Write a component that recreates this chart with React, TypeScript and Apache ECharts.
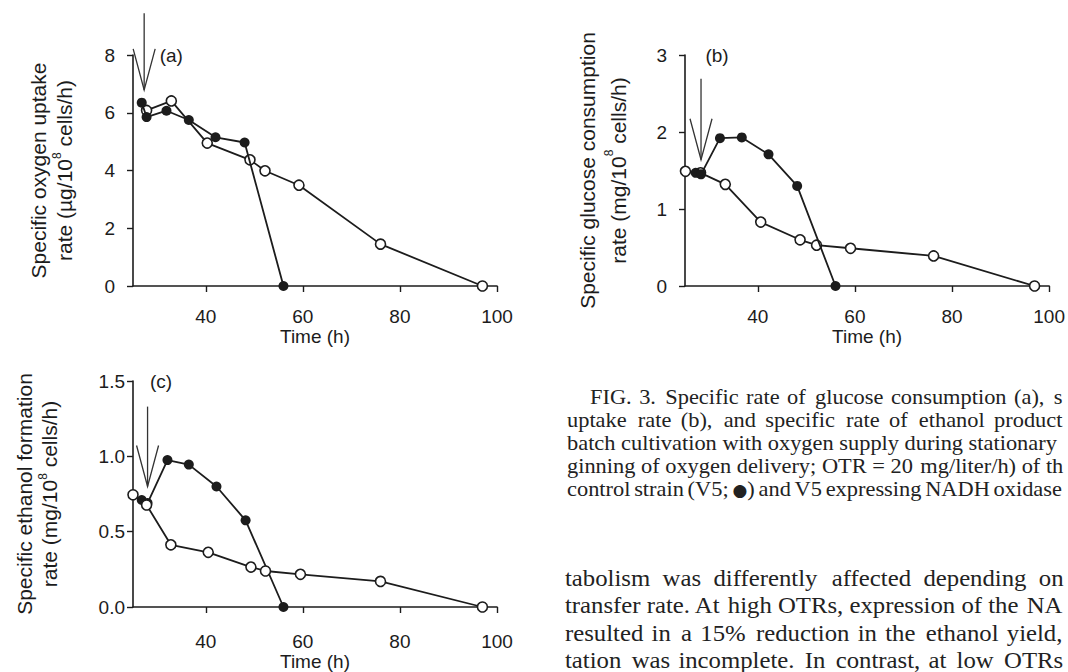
import React, { useEffect, useRef } from "react";
import * as echarts from "echarts";

// ---- Data (time in h, specific rates) ----
// (a) specific oxygen uptake rate (µg/10^8 cells/h)
const aV5Time = [26.8, 27.8, 31.9, 36.5, 42.0, 48.0, 56.0];
const aV5Rate = [6.35, 5.85, 6.07, 5.75, 5.15, 4.97, 0];
const aNoxTime = [27.8, 32.9, 40.3, 49.1, 52.2, 59.2, 76.0, 97.0];
const aNoxRate = [6.08, 6.41, 4.95, 4.37, 3.99, 3.49, 1.45, 0];

// (b) specific glucose consumption rate (mg/10^8 cells/h)
const bV5Time = [27.2, 28.3, 32.2, 36.7, 42.2, 48.1, 56.0];
const bV5Rate = [1.47, 1.45, 1.92, 1.93, 1.71, 1.3, 0];
const bNoxTime = [25.1, 28.2, 33.3, 40.6, 48.7, 52.1, 59.1, 76.2, 97.0];
const bNoxRate = [1.49, 1.47, 1.32, 0.83, 0.6, 0.53, 0.49, 0.39, 0];

// (c) specific ethanol formation rate (mg/10^8 cells/h)
const cV5Time = [26.8, 28.0, 32.1, 36.5, 42.2, 48.2, 56.0];
const cV5Rate = [0.71, 0.69, 0.975, 0.945, 0.8, 0.575, 0];
const cNoxTime = [25.0, 27.8, 32.8, 40.5, 49.3, 52.3, 59.5, 76.0, 97.0];
const cNoxRate = [0.745, 0.677, 0.413, 0.363, 0.265, 0.239, 0.217, 0.17, 0];

const timeTicks = [40, 60, 80, 100];
const timeMin = 25;
const timeMax = 100;
const yMaxes = [8, 3, 1.5];
const yIntervals = [2, 1, 0.5];
const yDecimals = [0, 0, 1];
const panelLetters = ["(a)", "(b)", "(c)"];
const letterTime = [30.5, 29.2, 28.5];
const yTitleFirst = [
  "Specific oxygen uptake",
  "Specific glucose consumption",
  "Specific ethanol formation",
];
const yTitleUnit = ["µg", "mg", "mg"];
const xTitle = "Time (h)";

// arrows (beginning of oxygen delivery): time, top value, tip value
const arrowTime = [27.3, 28.3, 28.0];
const arrowTop = [9.45, 2.69, 1.33];
const arrowTip = [6.79, 1.64, 0.8];

const captionLines = [
  "FIG. 3. Specific rate of glucose consumption (a), s",
  "uptake rate (b), and specific rate of ethanol product",
  "batch cultivation with oxygen supply during stationary",
  "ginning of oxygen delivery; OTR = 20 mg/liter/h) of th",
  "control strain (V5; \u25CF) and V5 expressing NADH oxidase",
];
const paragraphLines = [
  "tabolism was differently affected depending on",
  "transfer rate. At high OTRs, expression of the NA",
  "resulted in a 15% reduction in the ethanol yield,",
  "tation was incomplete. In contrast, at low OTRs",
];

const panels = [
  { v5t: aV5Time, v5r: aV5Rate, nt: aNoxTime, nr: aNoxRate },
  { v5t: bV5Time, v5r: bV5Rate, nt: bNoxTime, nr: bNoxRate },
  { v5t: cV5Time, v5r: cV5Rate, nt: cNoxTime, nr: cNoxRate },
];

const zip = (xs: number[], ys: number[]) => xs.map((x, i) => [x, ys[i]]);

const ctx2d = typeof document !== "undefined" ? document.createElement("canvas").getContext("2d") : null;
const measure = (t: string, font: string) => {
  if (!ctx2d) return t.length * 8;
  ctx2d.font = font;
  return ctx2d.measureText(t).width;
};

// spread words so a justified line reaches the wanted width
function justify(line: string, font: string, width: number): string {
  const words = line.split(" ");
  if (words.length < 2) return line;
  const wordsW = words.reduce((s, w) => s + measure(w, font), 0);
  const gap = (width - wordsW) / (words.length - 1);
  const sp = measure(" ", font);
  let hair = measure("\u200a", font);
  if (hair < 0.5) hair = 0.5;
  let out = words[0];
  let acc = 0;
  for (let k = 1; k < words.length; k++) {
    const useSpace = gap >= sp;
    const rest = gap - (useSpace ? sp : 0);
    acc += rest / hair;
    const n = Math.max(0, Math.round(acc));
    acc -= n;
    out += (useSpace ? " " : "") + "\u200a".repeat(n) + words[k];
  }
  return out;
}

export default function App() {
  const ref = useRef<HTMLDivElement>(null);

  useEffect(() => {
    document.body.style.margin = "0";
    const chart = echarts.init(ref.current!, null, { renderer: "svg" });
    const ink = "#1c1c1c";
    const sans = "'Liberation Sans', Arial, Helvetica, sans-serif";
    const serif = "'Liberation Serif', 'Times New Roman', serif";

    const grids = [
      { left: 133, top: 55, width: 364, height: 231 },
      { left: 685, top: 55, width: 366, height: 231 },
      { left: 133, top: 381, width: 364, height: 226 },
    ];
    const xLabelMargin = [21, 21, 25];
    const xNameGap = [37, 37, 44];
    const yLabelMargin = [18, 18, 8];
    const yNameGap = [56, 51, 71];
    const yNameLine = [26, 31, 25];
    const openOnTop = [false, false, true];

    const option: any = {
      animation: false,
      backgroundColor: "#ffffff",
      grid: grids.map((g) => ({ ...g, containLabel: false })),
      xAxis: grids.map((_, i) => ({
        type: "value",
        gridIndex: i,
        min: timeMin,
        max: timeMax,
        axisLine: { show: true, onZero: false, lineStyle: { color: ink, width: 1.6 } },
        axisTick: { show: true, length: 6, customValues: timeTicks, lineStyle: { color: ink, width: 1.4 } },
        axisLabel: {
          customValues: timeTicks,
          margin: xLabelMargin[i],
          fontSize: 19,
          color: ink,
          fontFamily: sans,
        },
        splitLine: { show: false },
        name: xTitle,
        nameLocation: "middle",
        nameGap: xNameGap[i],
        nameTextStyle: { fontSize: 19, color: ink, fontFamily: sans },
      })),
      yAxis: grids.map((_, i) => ({
        type: "value",
        gridIndex: i,
        min: 0,
        max: yMaxes[i],
        interval: yIntervals[i],
        axisLine: { show: true, onZero: false, lineStyle: { color: ink, width: 1.6 } },
        axisTick: { show: true, length: 6, lineStyle: { color: ink, width: 1.4 } },
        axisLabel: {
          margin: yLabelMargin[i],
          fontSize: 19,
          color: ink,
          fontFamily: sans,
          formatter: (v: number) => v.toFixed(yDecimals[i]),
        },
        splitLine: { show: false },
        name:
          "{t|" + yTitleFirst[i] + "}\n{t|rate (" + yTitleUnit[i] + "/10}{s|8}{t| cells/h)}",
        nameLocation: "middle",
        nameRotate: 90,
        nameGap: yNameGap[i],
        nameTextStyle: {
          rich: {
            t: { fontSize: 21, color: ink, fontFamily: sans, lineHeight: yNameLine[i] },
            s: { fontSize: 12, color: ink, fontFamily: sans, verticalAlign: "top", lineHeight: yNameLine[i] - 6 },
          },
        },
      })),
      series: panels.flatMap((p, i) => [
        {
          type: "line",
          name: "V5-NOX",
          xAxisIndex: i,
          yAxisIndex: i,
          data: zip(p.nt, p.nr),
          symbol: "circle",
          symbolSize: 10,
          showAllSymbol: true,
          clip: false,
          z: openOnTop[i] ? 4 : 2,
          lineStyle: { color: ink, width: 1.8 },
          itemStyle: { color: "#ffffff", borderColor: ink, borderWidth: 1.6 },
        },
        {
          type: "line",
          name: "V5",
          xAxisIndex: i,
          yAxisIndex: i,
          data: zip(p.v5t, p.v5r),
          symbol: "circle",
          symbolSize: 10,
          showAllSymbol: true,
          clip: false,
          z: 3,
          lineStyle: { color: ink, width: 1.8 },
          itemStyle: { color: ink, borderColor: ink, borderWidth: 0 },
        },
      ]),
    };
    chart.setOption(option);

    const graphics: any[] = [];
    for (let i = 0; i < 3; i++) {
      const top = chart.convertToPixel({ gridIndex: i }, [arrowTime[i], arrowTop[i]]) as number[];
      const tip = chart.convertToPixel({ gridIndex: i }, [arrowTime[i], arrowTip[i]]) as number[];
      graphics.push({
        type: "line",
        shape: { x1: top[0], y1: top[1], x2: tip[0], y2: tip[1] },
        style: { stroke: "#333", lineWidth: 1.3 },
        z: 10,
      });
      graphics.push({
        type: "polyline",
        shape: {
          points: [
            [tip[0] - 11, tip[1] - 41],
            [tip[0], tip[1]],
            [tip[0] + 11, tip[1] - 41],
          ],
        },
        style: { stroke: "#333", lineWidth: 1.3, fill: "none" },
        z: 10,
      });
      const lp = chart.convertToPixel({ gridIndex: i }, [letterTime[i], yMaxes[i]]) as number[];
      graphics.push({
        type: "text",
        x: lp[0],
        y: lp[1],
        z: 10,
        style: {
          text: panelLetters[i],
          fill: ink,
          font: "19px " + sans,
          textAlign: "left",
          textVerticalAlign: "middle",
        },
      });
    }

    const capFont = "20px " + serif;
    const dotFont = "17px 'DejaVu Sans', sans-serif";
    const capScale = 1.12;
    const captionY = [397, 420, 443, 466, 489];
    const captionX = [590, 567, 567, 567, 567];
    const captionEnd = [1062, 1063, 0, 1063, 1062];
    const textEl = (x: number, y: number, text: string, font: string, sx: number) => ({
      type: "text",
      x,
      y,
      scaleX: sx,
      style: { text, fill: "#222", font, textAlign: "left", textVerticalAlign: "middle" },
    });
    captionLines.forEach((line, k) => {
      const dot = "\u25CF";
      if (line.indexOf(dot) >= 0) {
        const dotW = measure(dot, dotFont);
        const extra = dotW / capScale - measure(dot, capFont);
        const width = (captionEnd[k] - captionX[k]) / capScale - extra;
        const parts = justify(line, capFont, width).split(dot);
        const x1 = captionX[k] + measure(parts[0], capFont) * capScale;
        const x2 = x1 + dotW;
        graphics.push(textEl(captionX[k], captionY[k], parts[0], capFont, capScale));
        graphics.push(textEl(x1, captionY[k] + 1, dot, dotFont, 1));
        graphics.push(textEl(x2, captionY[k], parts[1], capFont, capScale));
      } else {
        const txt = captionEnd[k]
          ? justify(line, capFont, (captionEnd[k] - captionX[k]) / capScale)
          : line;
        graphics.push(textEl(captionX[k], captionY[k], txt, capFont, capScale));
      }
    });

    const paraFont = "22.5px " + serif;
    const paraScale = 1.1;
    const paraY = [578, 605.5, 633, 660];
    const paraX = 565;
    const paraEnd = [1064, 1063, 1063, 1063];
    paragraphLines.forEach((line, k) => {
      graphics.push({
        type: "text",
        x: paraX,
        y: paraY[k],
        scaleX: paraScale,
        style: {
          text: justify(line, paraFont, (paraEnd[k] - paraX) / paraScale),
          fill: "#222",
          font: paraFont,
          textAlign: "left",
          textVerticalAlign: "middle",
        },
      });
    });
    chart.setOption({ graphic: graphics });

    return () => chart.dispose();
  }, []);

  return <div ref={ref} style={{ width: 1068, height: 672 }} />;
}
